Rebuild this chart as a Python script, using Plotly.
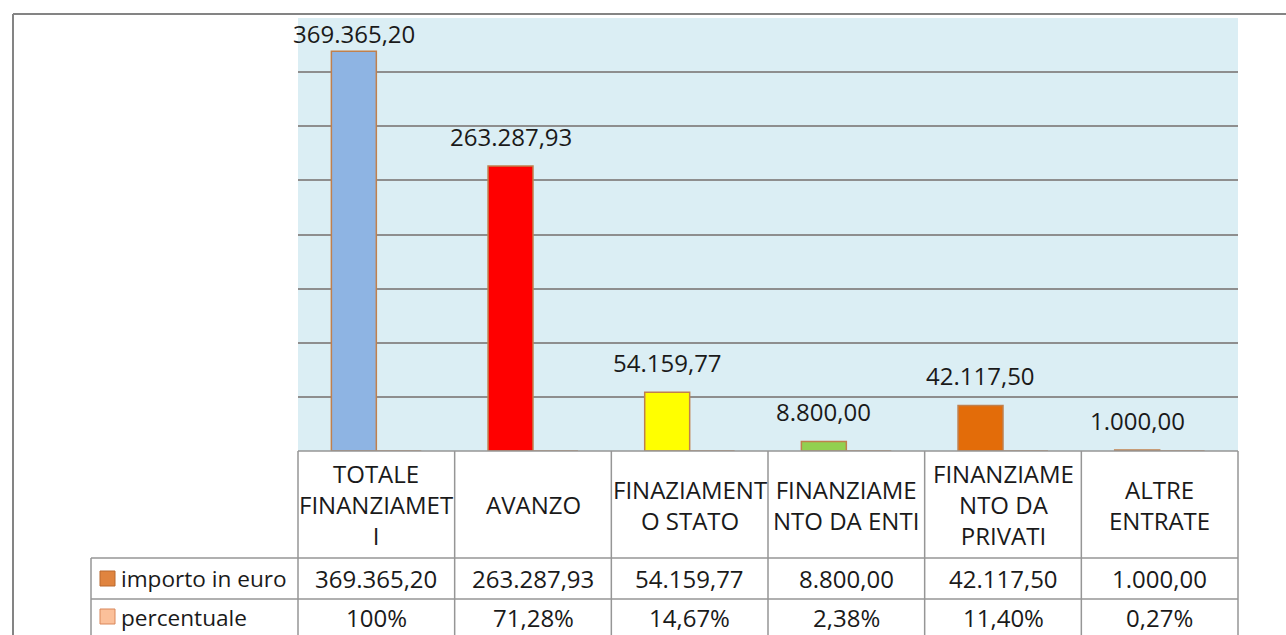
import plotly.graph_objects as go

# ---- data ----
categories = ["TOTALE FINANZIAMETI", "AVANZO", "FINAZIAMENTO STATO",
              "FINANZIAMENTO DA ENTI", "FINANZIAMENTO DA PRIVATI", "ALTRE ENTRATE"]
category_labels = ["TOTALE<br>FINANZIAMET<br>I", "AVANZO", "FINAZIAMENT<br>O STATO",
                   "FINANZIAME<br>NTO DA ENTI", "FINANZIAME<br>NTO DA<br>PRIVATI", "ALTRE<br>ENTRATE"]
importo = [369365.20, 263287.93, 54159.77, 8800.00, 42117.50, 1000.00]
percentuale = [1.0, 0.7128, 0.1467, 0.0238, 0.1140, 0.0027]
series_names = ["importo in euro", "percentuale"]

# ---- style ----
bar_colors = ["#8EB4E3", "#FF0000", "#FFFF00", "#92D050", "#E36C09", "#FF66CC"]
outline = "#C0804D"
pct_color = "#FABF8F"
legend_colors = ["#E0843F", "#FBC09A"]
legend_borders = ["#B9692F", "#D9875A"]
grid_col = "#8E8E8E"
table_col = "#969696"
FONT = "Open Sans"
FS = 24
FS_LEG = 22.6
TXT = "#1a1a1a"

W, H = 1286, 635
ML, MR, MT, MB = 298, 48, 18, 184
PW, PH = W - ML - MR, H - MT - MB
YMAX = 400000
BW = 0.287  # bar width in category units


def fmt_it(v):
    s = f"{v:,.2f}"
    return s.replace(",", "X").replace(".", ",").replace("X", ".")


def fmt_pct(v):
    s = f"{v * 100:.2f}".replace(".", ",")
    if s.endswith(",00"):
        s = s[:-3]
    return s + "%"


n = len(categories)
xr = [-0.5, n - 0.5]


def xp(k):  # category position -> paper
    return (k - xr[0]) / (xr[1] - xr[0])


def px_x(dx):  # pixel offset from plot left -> paper
    return dx / PW


def px_y(dy):  # pixel offset below plot bottom -> paper
    return -dy / PH


fig = go.Figure()
fig.add_trace(go.Bar(
    x=categories, y=importo, name=series_names[0],
    width=BW, offset=-BW,
    marker=dict(color=bar_colors, line=dict(color=outline, width=1.5)),
    hoverinfo="skip", cliponaxis=False,
))
fig.add_trace(go.Bar(
    x=categories, y=percentuale, name=series_names[1],
    width=BW, offset=0,
    marker=dict(color=pct_color, line=dict(color=outline, width=1.5)),
    hoverinfo="skip", cliponaxis=False,
))

shapes = []
annotations = []

# data labels above importo bars
for i, v in enumerate(importo):
    room = (YMAX - v) / YMAX * PH - 34
    shift = max(-2, min(11, room))
    annotations.append(dict(
        x=i - BW / 2, y=v, xref="x", yref="y", text=fmt_it(v),
        showarrow=False, yanchor="bottom", yshift=shift,
        font=dict(family=FONT, size=FS, color=TXT),
    ))

# table geometry (pixels below the plot bottom)
row_edges = [0, 107, 148, 189]
left_col = -207  # pixels left of plot

line = dict(color=table_col, width=1.5)
shapes.append(dict(type="line", xref="paper", yref="paper", x0=0, x1=1,
                   y0=px_y(row_edges[0]), y1=px_y(row_edges[0]), line=line))
for r in row_edges[1:]:
    shapes.append(dict(type="line", xref="paper", yref="paper", x0=px_x(left_col), x1=1,
                       y0=px_y(r), y1=px_y(r), line=line))
shapes.append(dict(type="line", xref="paper", yref="paper", x0=px_x(left_col), x1=px_x(left_col),
                   y0=px_y(row_edges[1]), y1=px_y(row_edges[-1]), line=line))
for k in range(n + 1):
    shapes.append(dict(type="line", xref="paper", yref="paper", x0=xp(k - 0.5), x1=xp(k - 0.5),
                       y0=px_y(row_edges[0]), y1=px_y(row_edges[-1]), line=line))

# header labels
for i, lab in enumerate(category_labels):
    annotations.append(dict(
        x=i, y=px_y((row_edges[0] + row_edges[1]) / 2), xref="x", yref="paper",
        text=lab, showarrow=False, yanchor="middle", xanchor="center",
        font=dict(family=FONT, size=FS, color=TXT),
    ))
# value rows
rows = [[fmt_it(v) for v in importo], [fmt_pct(v) for v in percentuale]]
row_centers = [(row_edges[1] + row_edges[2]) / 2, (row_edges[2] + row_edges[3]) / 2 - 2]
for r, vals in enumerate(rows):
    for i, t in enumerate(vals):
        annotations.append(dict(
            x=i, y=px_y(row_centers[r]), xref="x", yref="paper",
            text=t, showarrow=False, yanchor="middle", xanchor="center",
            font=dict(family=FONT, size=FS, color=TXT),
        ))
    cy = row_centers[r] if r == 0 else row_centers[r] - 1
    shapes.append(dict(type="rect", xref="paper", yref="paper",
                       x0=px_x(left_col + 9), x1=px_x(left_col + 24),
                       y0=px_y(cy - 7.5), y1=px_y(cy + 7.5),
                       fillcolor=legend_colors[r], line=dict(color=legend_borders[r], width=1)))
    annotations.append(dict(
        x=px_x(left_col + 28), y=px_y(row_centers[r]), xref="paper", yref="paper",
        text=series_names[r], showarrow=False, yanchor="middle", xanchor="left",
        font=dict(family=FONT, size=FS_LEG, color=TXT),
    ))

# outer chart frame
frame = dict(color="#848484", width=2)
fx, fy = px_x(13 - ML), 1 + (MT - 14) / PH
shapes.append(dict(type="line", xref="paper", yref="paper", x0=fx, x1=1.2, y0=fy, y1=fy, line=frame))
shapes.append(dict(type="line", xref="paper", yref="paper", x0=fx, x1=fx, y0=fy, y1=-0.5, line=frame))

fig.update_layout(
    width=W, height=H,
    margin=dict(l=ML, r=MR, t=MT, b=MB, pad=0),
    paper_bgcolor="white", plot_bgcolor="#DBEEF4",
    barmode="group", showlegend=False,
    separators=",.",
    shapes=shapes, annotations=annotations,
    xaxis=dict(type="category", range=xr, showticklabels=False, showgrid=False,
               zeroline=False, showline=False, ticks=""),
    yaxis=dict(range=[0, YMAX], dtick=50000, showticklabels=False, showgrid=True,
               gridcolor=grid_col, gridwidth=1.5, zeroline=False, showline=False, ticks=""),
    font=dict(family=FONT, size=FS, color=TXT),
)

fig.write_html("out.html")
